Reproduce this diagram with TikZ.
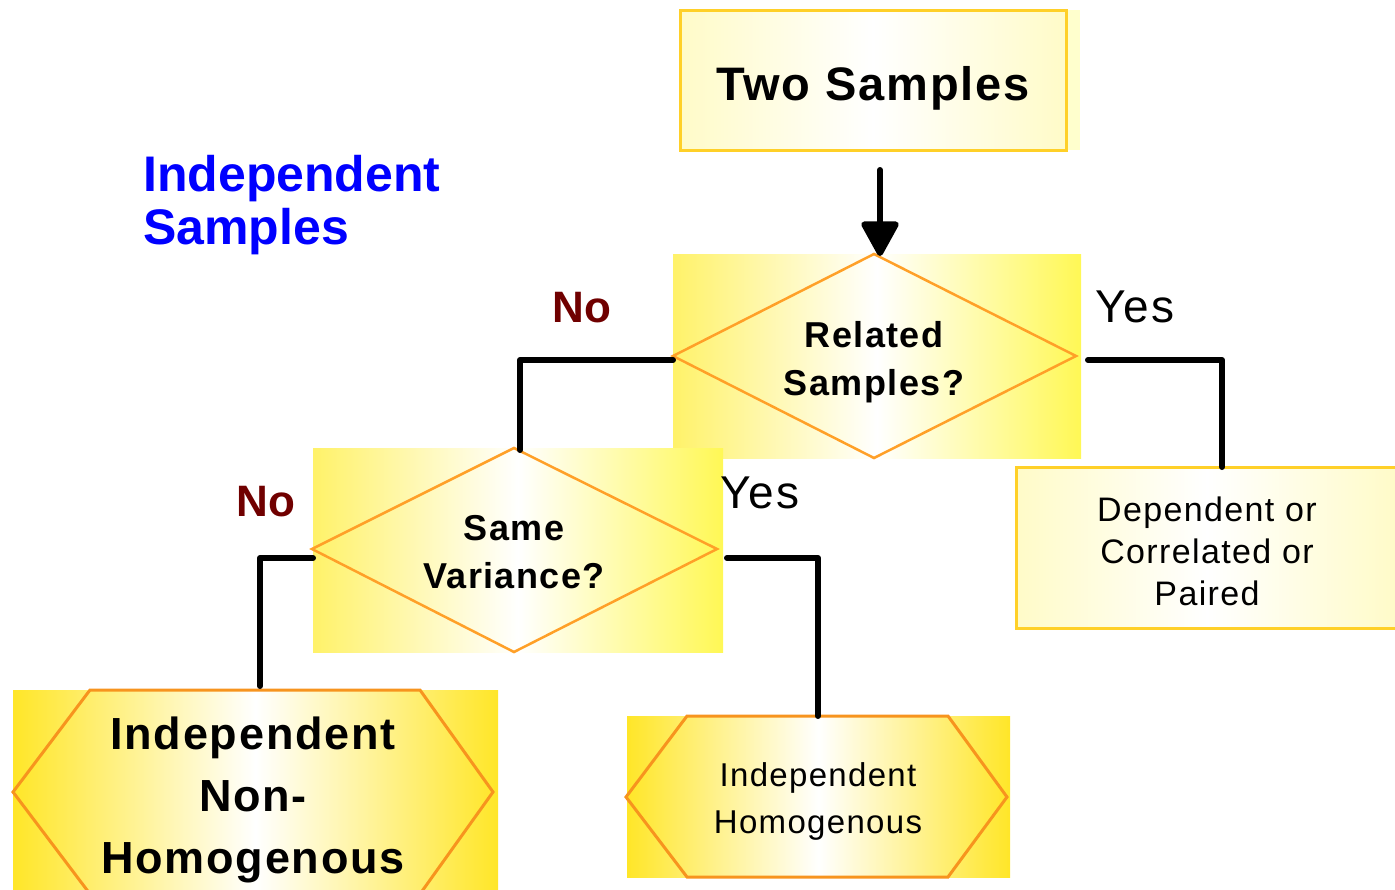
\documentclass[tikz,border=0pt]{standalone}
\usepackage{fontspec}
\setmainfont{Liberation Sans}
\newfontfamily\spaced[LetterSpace=4]{Liberation Sans}
\usetikzlibrary{arrows.meta}
\definecolor{gold}{RGB}{255,208,40}
\definecolor{orangeline}{RGB}{255,160,40}
\definecolor{hexorange}{RGB}{247,148,30}
\definecolor{paleyellow}{RGB}{255,251,200}
\definecolor{stripyellow}{RGB}{255,255,205}
\definecolor{diamyellowL}{RGB}{255,242,105}
\definecolor{diamyellowR}{RGB}{255,248,85}
\definecolor{hexyellow}{RGB}{255,230,40}
\definecolor{noRed}{RGB}{112,0,0}
\definecolor{indBlue}{RGB}{0,0,255}
\begin{document}
\begin{tikzpicture}[x=1pt,y=-1pt,
  boxnode/.style={draw=gold, line width=3pt, left color=paleyellow, right color=paleyellow, middle color=white, inner sep=0pt, align=center},
  decisiontext/.style={inner sep=0pt, align=center, font=\spaced\bfseries\fontsize{36}{48}\selectfont},
  diamedge/.style={draw=orangeline, line width=2.5pt, line join=miter},
  diambg/.style={left color=diamyellowL, right color=diamyellowR, middle color=white},
  hexbg/.style={left color=hexyellow, right color=hexyellow, middle color=white},
  hexedge/.style={draw=hexorange, line width=3pt, line join=miter},
  conn/.style={line width=6pt, line cap=round, line join=round, draw=black},
  nolabel/.style={text=noRed, font=\bfseries\fontsize{44}{50}\selectfont, inner sep=0pt},
  yeslabel/.style={text=black, font=\spaced\fontsize{46}{54}\selectfont, inner sep=0pt},
]
\useasboundingbox (0,0) rectangle (1395,889);

% top box
\fill[stripyellow] (1066,10) rectangle (1080,150);
\node[boxnode, minimum width=386pt, minimum height=140pt, text height=40pt, text depth=0pt,
      font=\spaced\bfseries\fontsize{47}{56}\selectfont] (two) at (873,80) {Two Samples};

% label
\node[text=indBlue, font=\bfseries\fontsize{50}{53}\selectfont, align=left, inner sep=0pt, anchor=west]
  (indsamp) at (143,205) {Independent\\Samples};

% related samples decision
\shade[diambg] (673,254) rectangle (1081,458);
\draw[diamedge] (874,254) -- (1076,356) -- (874,458) -- (673,356) -- cycle;
\node[decisiontext] (rel) at (874,362) {Related\\Samples?};

% same variance decision
\shade[diambg] (313,448) rectangle (723,652);
\draw[diamedge] (514,448) -- (717,549) -- (514,652) -- (312,549) -- cycle;
\node[decisiontext] (same) at (514,552.5) {Same\\Variance?};

% dependent box
\node[boxnode, minimum width=382pt, minimum height=161pt,
      font=\spaced\fontsize{34}{42}\selectfont] (dep) at (1207,547.5) {\rule{0pt}{33pt}Dependent or\\Correlated or\\Paired};

% hexagon non-homogenous
\shade[hexbg] (13,690) rectangle (498,889);
\draw[hexedge] (90,690) -- (420,690) -- (493,792) -- (420,894) -- (90,894) -- (13,792) -- cycle;
\node[font=\spaced\bfseries\fontsize{45}{62}\selectfont, align=center, inner sep=0pt]
  (nonhom) at (253,800) {Independent\\Non-\\Homogenous};

% hexagon homogenous
\shade[hexbg] (627,716) rectangle (1010,877);
\draw[hexedge] (687,716) -- (948,716) -- (1007,797) -- (948,877) -- (687,877) -- (626,797) -- cycle;
\node[font=\spaced\fontsize{33}{47}\selectfont, align=center, inner sep=0pt]
  (hom) at (818,801.5) {Independent\\Homogenous};

% connector end points
\coordinate (arrS) at (880,170);
\coordinate (arrE) at (880,256);
\coordinate (relW) at (673,360);
\coordinate (sameN) at (520,450);
\coordinate (relE) at (1088,360);
\coordinate (depN) at (1222,467);
\coordinate (sameW) at (313,558);
\coordinate (nonhomN) at (260,686);
\coordinate (sameE) at (727,558);
\coordinate (homN) at (818,716);

% connectors
\draw[conn, -{Triangle[length=38pt, width=40pt, round]}] (arrS) -- (arrE);
\draw[conn] (relW) -| (sameN);
\draw[conn] (relE) -| (depN);
\draw[conn] (sameW) -| (nonhomN);
\draw[conn] (sameE) -| (homN);

% branch labels
\node[nolabel] (no1) at (582,308) {No};
\node[yeslabel] (yes1) at (1135,307) {Yes};
\node[nolabel] (no2) at (266,502) {No};
\node[yeslabel] (yes2) at (760,493) {Yes};
\end{tikzpicture}
\end{document}
